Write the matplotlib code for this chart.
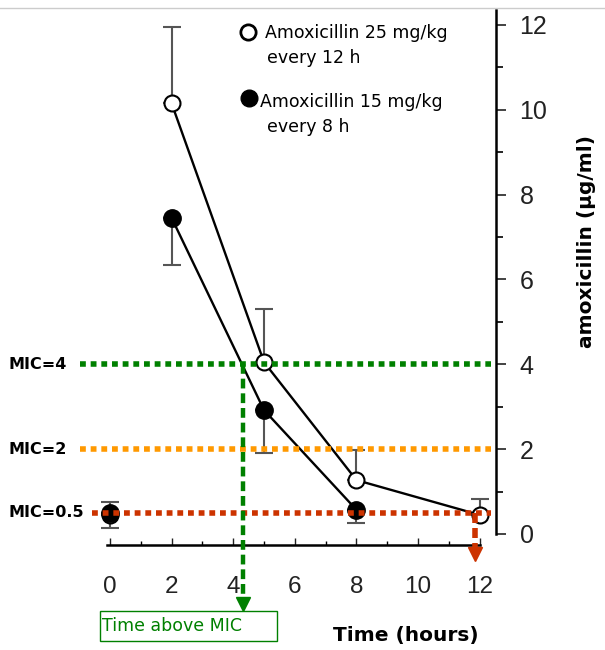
import matplotlib
matplotlib.use("Agg")
import matplotlib.pyplot as plt
from matplotlib.patches import Rectangle
from matplotlib.lines import Line2D
from matplotlib.ticker import MultipleLocator

# --- data --------------------------------------------------------------
# 25 mg/kg every 12 h (open circles, upper error bars)
t_open = [0, 2, 5, 8, 12]
c_open = [0.45, 10.15, 4.05, 1.27, 0.45]
c_open_top = [0.75, 11.95, 5.3, 1.98, 0.83]

# 15 mg/kg every 8 h (filled circles, lower error bars)
t_fill = [0, 2, 5, 8]
c_fill = [0.5, 7.45, 2.92, 0.57]
c_fill_bot = [0.15, 6.33, 1.91, 0.26]

mic_levels = [4, 2, 0.5]
mic_labels = ["MIC=4", "MIC=2", "MIC=0.5"]
mic_colors = ["#008000", "#ff9900", "#cc3300"]
mic_start = [-0.97, -0.97, -0.6]

time_above_mic = 4.32   # where the 25 mg/kg curve crosses MIC=4
time_end_red = 11.85

GREY = "#555555"

fig = plt.figure(figsize=(6.05, 6.5), dpi=100)
ax = fig.add_axes([0.1564, 0.1615, 0.6634, 0.8262])
ax.set_xlim(-0.5, 12.53)
ax.set_ylim(-0.26, 12.4)

# connecting lines (t=0 point not joined)
ax.plot(t_open[1:], c_open[1:], color="black", lw=1.7, zorder=2)
ax.plot(t_fill[1:], c_fill[1:], color="black", lw=1.7, zorder=2)

# one-sided error bars
up = [hi - v for hi, v in zip(c_open_top, c_open)]
lo = [v - b for v, b in zip(c_fill, c_fill_bot)]
ax.errorbar(t_open, c_open, yerr=[[0] * len(up), up], fmt="none",
            ecolor=GREY, elinewidth=1.5, capsize=6.5, capthick=1.5, zorder=1)
ax.errorbar(t_fill, c_fill, yerr=[lo, [0] * len(lo)], fmt="none",
            ecolor=GREY, elinewidth=1.5, capsize=6.5, capthick=1.5, zorder=1)

ax.plot(t_open, c_open, "o", ms=11.5, mfc="white", mec="black", mew=1.5,
        ls="none", zorder=3)
ax.plot(t_fill, c_fill, "o", ms=12.5, mfc="black", mec="black",
        ls="none", zorder=3)

# MIC reference lines
for lvl, col, x0 in zip(mic_levels, mic_colors, mic_start):
    ax.plot([x0, 12.37], [lvl, lvl], color=col, lw=4,
            ls=(0, (1.05, 0.87)), clip_on=False, zorder=4)
for lvl, lab in zip(mic_levels, mic_labels):
    ypx = ax.transData.transform((0, lvl))[1]
    fig.text(9 / 605, ypx / 650, lab, ha="left", va="center",
             fontsize=11.5, fontweight="bold", family="DejaVu Sans")

# arrows down to the time axis
ax.plot([time_above_mic, time_above_mic], [4, -1.5], color="#008000", lw=3.2,
        ls=(0, (2.2, 1.1)), clip_on=False, zorder=4)
ax.plot([time_above_mic], [-1.66], marker="v", ms=10, color="#008000",
        clip_on=False, zorder=4)
ax.plot([time_end_red, time_end_red], [0.5, -0.33], color="#cc3300", lw=4,
        ls=(0, (1.8, 0.9)), clip_on=False, zorder=4)
ax.plot([time_end_red], [-0.46], marker="v", ms=10, color="#cc3300",
        clip_on=False, zorder=4)

# axes styling: x axis at bottom, y axis on the right
for s in ["left", "top"]:
    ax.spines[s].set_visible(False)
ax.spines["bottom"].set_bounds(-0.1, 12)
ax.spines["right"].set_bounds(0, 12.35)
ax.spines["bottom"].set_linewidth(1.8)
ax.spines["right"].set_linewidth(1.8)
ax.yaxis.tick_right()
ax.yaxis.set_label_position("right")
ax.xaxis.set_major_locator(MultipleLocator(2))
ax.xaxis.set_minor_locator(MultipleLocator(1))
ax.yaxis.set_major_locator(MultipleLocator(2))
ax.yaxis.set_minor_locator(MultipleLocator(1))
ax.tick_params(axis="x", which="major", direction="in", length=5, width=1,
               labelsize=17.5, pad=22, colors="#222222")
ax.tick_params(axis="x", which="minor", direction="in", length=3, width=1)
ax.tick_params(axis="y", which="major", direction="out", length=7, width=1.2,
               labelsize=18, pad=10, colors="#222222")
ax.tick_params(axis="y", which="minor", direction="out", length=5, width=1.2)
for lab in ax.get_xticklabels() + ax.get_yticklabels():
    lab.set_family("Liberation Sans")

fig.text(587 / 605, 1 - 242 / 650, "amoxicillin (µg/ml)", rotation=90,
         ha="center", va="center", fontsize=14.5, fontweight="bold",
         family="DejaVu Sans")
fig.text(406 / 605, 1 - 636 / 650, "Time (hours)", ha="center", va="center",
         fontsize=14.5, fontweight="bold", family="DejaVu Sans")

# "Time above MIC" box
fig.patches.append(Rectangle((100 / 605, 1 - 641 / 650), 177 / 605, 30 / 650,
                             transform=fig.transFigure, fill=False,
                             edgecolor="#008000", lw=1))
fig.text(102 / 605, 1 - 626 / 650, "Time above MIC", ha="left", va="center",
         fontsize=12.5, color="#008000", family="DejaVu Sans")

# legend drawn as free text like the original
fig.lines.append(Line2D([248 / 605], [1 - 32 / 650], marker="o", ms=11,
                        mfc="white", mec="black", mew=2,
                        transform=fig.transFigure))
fig.text(265 / 605, 1 - 33 / 650, "Amoxicillin 25 mg/kg", ha="left",
         va="center", fontsize=12.5, family="DejaVu Sans")
fig.text(267 / 605, 1 - 58 / 650, "every 12 h", ha="left", va="center",
         fontsize=12.5, family="DejaVu Sans")
fig.lines.append(Line2D([249 / 605], [1 - 98 / 650], marker="o", ms=12,
                        mfc="black", mec="black",
                        transform=fig.transFigure))
fig.text(260 / 605, 1 - 102 / 650, "Amoxicillin 15 mg/kg", ha="left",
         va="center", fontsize=12.5, family="DejaVu Sans")
fig.text(267 / 605, 1 - 127 / 650, "every 8 h", ha="left", va="center",
         fontsize=12.5, family="DejaVu Sans")

# faint scan border along the top
fig.lines.append(Line2D([0, 1], [1 - 8 / 650, 1 - 8 / 650], color="#cccccc",
                        lw=1, transform=fig.transFigure))

fig.savefig("out.png", dpi=100)
